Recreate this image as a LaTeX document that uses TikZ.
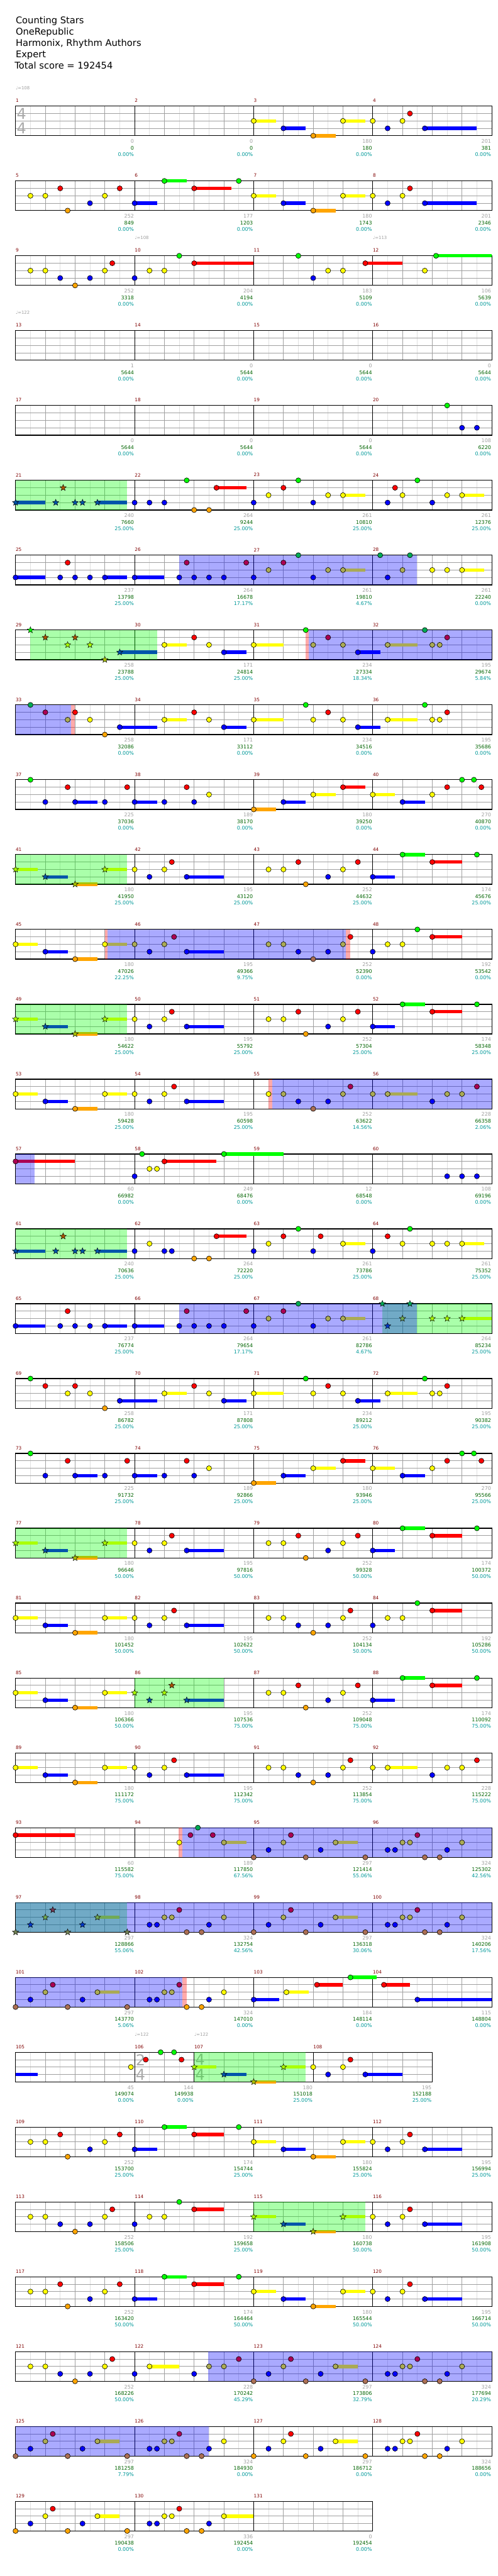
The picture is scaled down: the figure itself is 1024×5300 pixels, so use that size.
\documentclass[tikz,border=0pt]{standalone}
\usepackage{fontspec}
\setmainfont{DejaVu Sans}
\usetikzlibrary{shapes.geometric}
\definecolor{c0}{RGB}{0,255,0}
\definecolor{c1}{RGB}{255,0,0}
\definecolor{c2}{RGB}{255,255,0}
\definecolor{c3}{RGB}{0,0,255}
\definecolor{c4}{RGB}{255,165,0}
\definecolor{pgreen}{RGB}{0,255,0}
\definecolor{pblue}{RGB}{0,0,255}
\definecolor{pred}{RGB}{255,0,0}
\definecolor{mnum}{RGB}{128,0,0}
\definecolor{lgray}{RGB}{160,160,160}
\definecolor{lgreen}{RGB}{0,100,0}
\definecolor{lteal}{RGB}{0,153,153}
\definecolor{gridlight}{RGB}{224,224,224}
\definecolor{griddark}{RGB}{160,160,160}
\definecolor{tsgray}{RGB}{170,170,170}
\tikzset{
 gl/.style={draw=gridlight,line width=0.55pt},
 gd/.style={draw=griddark,line width=0.55pt},
 lnl/.style={draw=griddark,line width=0.65pt},
 ml/.style={draw=black,line width=0.6pt},
 bd/.style={draw=black,line width=0.85pt},
 nh/.style={draw=black,line width=0.45pt},
 sh/.style={star,star points=5,star point ratio=2.3,draw=black,line width=0.35pt,minimum size=2.7mm,inner sep=0pt},
 mn/.style={font=\fontsize{5.4}{6}\selectfont,text=mnum,inner sep=0pt,anchor=west},
 lb/.style={font=\fontsize{5.9}{7}\selectfont,inner sep=0pt,anchor=east},
 tempo/.style={font=\fontsize{5.1}{6}\selectfont,text=lgray,inner sep=0pt,anchor=west},
 tsig/.style={font=\fontsize{17.6}{18}\selectfont,text=tsgray,inner sep=0pt},
 ttl/.style={font=\fontsize{10.8}{13}\selectfont,anchor=base west,inner sep=0pt},
 staffrow/.style={shift={(32,{218.3+154*(#1-1)})},xscale=15.3125}
}
\newcommand\GRID[2]{%
 \pgfmathtruncatemacro\ga{#1-2}\pgfmathtruncatemacro\gb{#1-4}%
 \foreach \i in {2,6,...,\ga}{\draw[gl] (\i,0)--(\i,61);}
 \foreach \i in {4,8,...,\gb}{\draw[gd] (\i,0)--(\i,61);}
 \foreach \y in {15.25,30.5,45.75}{\draw[lnl] (0,\y)--(#1,\y);}
 \foreach \m in {#2}{\draw[ml] (\m,0)--(\m,61);}
 \draw[bd] (0,0) rectangle (#1,61);}
\newcommand\TS[3]{\node[tsig] at ({#1+0.8},15.5) {#2};\node[tsig] at ({#1+0.8},45.5) {#3};}
\newcommand\TEMPO[2]{\node[tempo] at (#1,-37) {♩=#2};}
\newcommand\MN[1]{\foreach \p/\m in {#1}{\node[mn] at (\p,-11) {\m};}}
\newcommand\MNS[1]{\foreach \k in {0,1,2,3}{\pgfmathtruncatemacro\mm{#1+\k}\node[mn] at ({16*\k},-11) {\mm};}}
\newcommand\SUS[1]{\foreach \s/\l/\n in {#1}{\fill[c\l] (\s,{15.25*\l-3.5}) rectangle ({\s+\n},{15.25*\l+3.5});}}
\newcommand\REG[3]{\fill[#1,fill opacity=0.333] (#2,0) rectangle (#3,61);}
\newcommand\hdn[2]{\filldraw[nh,fill=c#2] (#1,{15.25*#2}) ellipse [x radius=0.343,y radius=5.25];}
\newcommand\hdb[2]{\filldraw[nh,fill=c#2!67!pblue] (#1,{15.25*#2}) ellipse [x radius=0.343,y radius=5.25];}
\newcommand\hds[2]{\node[sh,fill=c#2!67!pgreen] at (#1,{15.25*#2}) {};}
\newcommand\hdt[2]{\node[sh,fill=c#2!67!pgreen!67!pblue] at (#1,{15.25*#2}) {};}
\newcommand\NH[2]{\foreach \s/\l in {#2}{\csname hd#1\endcsname{\s}{\l}}}
\newcommand\LAB[1]{\foreach \e/\g/\k/\p in {#1}{%
 \node[lb,text=lgray] at ({\e-0.07},72.5) {\g};
 \node[lb,text=lgreen] at ({\e-0.07},86) {\k};
 \node[lb,text=lteal] at ({\e-0.07},99) {\p\%};}}
\newcommand\STD{\GRID{64}{0,16,32,48,64}}
\begin{document}
\begin{tikzpicture}[x=0.2mm,y=-0.2mm]
\useasboundingbox (0,0) rectangle (1024,5300);
\fill[white] (0,0) rectangle (1024,5300);
\node[ttl] at (32,49) {Counting Stars};
\node[ttl] at (32,72.3) {OneRepublic};
\node[ttl] at (32,95.7) {Harmonix, Rhythm Authors};
\node[ttl] at (32,119) {Expert};
\node[ttl] at (30,141.7) {Total score = 192454};
% row 1
\begin{scope}[staffrow=1]
\STD\TS{0}{4}{4}\MNS{1}\TEMPO{0}{108}
\SUS{32/2/3,36/3/3,40/4/3,44/2/3,55/3/7}
\NH{n}{32/2,36/3,40/4,44/2,48/2,50/3,52/2,53/1,55/3}
\LAB{16/0/0/0.00,32/0/0/0.00,48/180/180/0.00,64/201/381/0.00}
\end{scope}
% row 2
\begin{scope}[staffrow=2]
\STD\MNS{5}
\SUS{16/3/3,20/0/3,24/1/5,32/2/3,36/3/3,40/4/3,44/2/3,55/3/7}
\NH{n}{2/2,4/2,6/1,7/4,10/3,12/2,14/1,16/3,20/0,24/1,30/0,32/2,36/3,40/4,44/2,48/2,50/3,52/2,53/1,55/3}
\LAB{16/252/849/0.00,32/177/1203/0.00,48/180/1743/0.00,64/201/2346/0.00}
\end{scope}
% row 3
\begin{scope}[staffrow=3]
\STD\MNS{9}\TEMPO{16}{108}\TEMPO{48}{113}
\SUS{24/1/8,47/1/5,56.5/0/7.5}
\NH{n}{2/2,4/2,6/3,8/4,10/3,12/2,13/1,16/3,18/2,20/2,22/0,24/1,38/0,40/3,42/2,44/2,47/1,55/2,56.5/0}
\LAB{16/252/3318/0.00,32/204/4194/0.00,48/183/5109/0.00,64/106/5639/0.00}
\end{scope}
% row 4
\begin{scope}[staffrow=4]
\STD\MNS{13}\TEMPO{0}{122}
\LAB{16/1/5644/0.00,32/0/5644/0.00,48/0/5644/0.00,64/0/5644/0.00}
\end{scope}
% row 5
\begin{scope}[staffrow=5]
\STD\MNS{17}
\NH{n}{58/0,60/3,62/3}
\LAB{16/0/5644/0.00,32/0/5644/0.00,48/0/5644/0.00,64/108/6220/0.00}
\end{scope}
% row 6
\begin{scope}[staffrow=6]
\STD\MNS{21}
\SUS{0/3/4,11/3/4,27/1/4,44/2/3,60/2/3}
\REG{pgreen}{0}{15}
\NH{s}{0/3,5.4/3,6.4/1,8/3,9/3,11/3}
\NH{n}{16/3,18/3,20/3,23/0,24/4,26/4,27/1,32/3,34/2,36/1,38/0,40/3,42/2,44/2,50/3,51/1,52/2,54/0,56/3,58/2,60/2}
\LAB{16/240/7660/25.00,32/264/9244/25.00,48/261/10810/25.00,64/261/12376/25.00}
\end{scope}
% row 7
\begin{scope}[staffrow=7]
\STD\MNS{25}
\SUS{0/3/4,12/3/3,16/3/4,44/2/3,60/2/3}
\REG{pblue}{22}{53.9}
\NH{n}{0/3,6/3,7/1,8/3,10/3,12/3,16/3,56/2,58/2,60/2}
\NH{b}{22/3,23/1,24/3,26/3,28/3,31/1,32/3,34/2,36/1,38/0,40/3,42/2,44/2,49/0,50/3,52/2,53/0}
\LAB{16/237/13798/25.00,32/264/16678/17.17,48/261/19810/4.67,64/261/22240/0.00}
\end{scope}
% row 8
\begin{scope}[staffrow=8]
\STD\MNS{29}
\SUS{14/3/5,20/2/3,28/3/3,32/2/4,46/3/3,50/2/4}
\REG{pgreen}{2}{19}\REG{pred}{39}{39.4}\REG{pblue}{39.4}{64}
\NH{s}{2/0,4/1,7/2,8/1,10/2,12/4,14/3}
\NH{n}{20/2,24/1,26/2,28/3,32/2,39/0}
\NH{b}{40/2,42/1,44/2,46/3,50/2,55/0,56/2,57/2,58/1}
\LAB{16/258/23788/25.00,32/171/24814/25.00,48/234/27334/18.34,64/195/29674/5.84}
\end{scope}
% row 9
\begin{scope}[staffrow=9]
\STD\MNS{33}
\SUS{14/3/5,20/2/3,28/3/3,32/2/4,46/3/3,50/2/4}
\REG{pblue}{0}{7.5}\REG{pred}{7.5}{8}
\NH{b}{2/0,4/1,7/2}
\NH{n}{8/1,10/2,12/4,14/3,20/2,24/1,26/2,28/3,32/2,39/0,40/2,42/1,44/2,46/3,50/2,55/0,56/2,57/2,58/1}
\LAB{16/258/32086/0.00,32/171/33112/0.00,48/234/34516/0.00,64/195/35686/0.00}
\end{scope}
% row 10
\begin{scope}[staffrow=10]
\STD\MNS{37}
\SUS{8/3/3,16/3/3,32/4/3,36/3/3,40/2/3,44/1/3,48/2/3,52/3/3}
\NH{n}{2/0,4/3,7/1,8/3,12/3,15/1,16/3,20/3,23/1,24/3,26/2,32/4,36/3,40/2,44/1,48/2,52/3,56/2,58/1,60/0,61.6/0,62.6/1}
\LAB{16/225/37036/0.00,32/189/38170/0.00,48/180/39250/0.00,64/270/40870/0.00}
\end{scope}
% row 11
\begin{scope}[staffrow=11]
\STD\MNS{41}
\SUS{0/2/3,4/3/3,8/4/3,12/2/3,23/3/5,48/3/3,52/0/3,56/1/4}
\REG{pgreen}{0}{15}
\NH{s}{0/2,4/3,8/4,12/2}
\NH{n}{16/2,18/3,20/2,21/1,23/3,34/2,36/2,38/1,39/4,42/3,44/2,46/1,48/3,52/0,56/1,62/0}
\LAB{16/180/41950/25.00,32/195/43120/25.00,48/252/44632/25.00,64/174/45676/25.00}
\end{scope}
% row 12
\begin{scope}[staffrow=12]
\STD\MNS{45}
\SUS{0/2/3,4/3/3,8/4/3,12/2/3,23/3/5,56/1/4}
\REG{pred}{12}{12.4}\REG{pblue}{12.4}{44.4}\REG{pred}{44.4}{45}
\NH{n}{0/2,4/3,8/4,12/2,45/1,48/3,50/2,52/2,54/0,56/1}
\NH{b}{16/2,18/3,20/2,21.3/1,23/3,34/2,36/2,38/3,40/4,42/3,44/2}
\LAB{16/180/47026/22.25,32/195/49366/9.75,48/252/52390/0.00,64/192/53542/0.00}
\end{scope}
% row 13
\begin{scope}[staffrow=13]
\STD\MNS{49}
\SUS{0/2/3,4/3/3,8/4/3,12/2/3,23/3/5,48/3/3,52/0/3,56/1/4}
\REG{pgreen}{0}{15}
\NH{s}{0/2,4/3,8/4,12/2}
\NH{n}{16/2,18/3,20/2,21/1,23/3,34/2,36/2,38/1,39/4,42/3,44/2,46/1,48/3,52/0,56/1,62/0}
\LAB{16/180/54622/25.00,32/195/55792/25.00,48/252/57304/25.00,64/174/58348/25.00}
\end{scope}
% row 14
\begin{scope}[staffrow=14]
\STD\MNS{53}
\SUS{0/2/3,4/3/3,8/4/3,12/2/3,23/3/5,50/2/4}
\REG{pred}{34}{34.5}\REG{pblue}{34.5}{64}
\NH{n}{0/2,4/3,8/4,12/2,16/2,18/3,20/2,21.3/1,23/3,34/2}
\NH{b}{36/2,38/3,40/4,42/3,44/2,45/1,48/2,50/2,56/3,58/2,60/2,62/1}
\LAB{16/180/59428/25.00,32/195/60598/25.00,48/252/63622/14.56,64/228/66358/2.06}
\end{scope}
% row 15
\begin{scope}[staffrow=15]
\STD\MNS{57}
\SUS{0/1/8,20/1/7,28/0/8}
\REG{pblue}{0}{2.6}
\NH{b}{0/1}
\NH{n}{16/3,17/0,18/2,19/2,20/1,28/0,58/3,60/3,62/3}
\LAB{16/60/66982/0.00,32/249/68476/0.00,48/12/68548/0.00,64/108/69196/0.00}
\end{scope}
% row 16
\begin{scope}[staffrow=16]
\STD\MNS{61}
\SUS{0/3/4,11/3/4,27/1/4,44/2/3,60/2/3}
\REG{pgreen}{0}{15}
\NH{s}{0/3,5.4/3,6.4/1,8/3,9/3,11/3}
\NH{n}{16/3,18/2,20/3,21/3,24/4,26/4,27/1,32/3,34/2,36/1,38/0,40/3,41/1,44/2,48/3,50/1,52/2,53/0,56/2,58/2,60/2}
\LAB{16/240/70636/25.00,32/264/72220/25.00,48/261/73786/25.00,64/261/75352/25.00}
\end{scope}
% row 17
\begin{scope}[staffrow=17]
\STD\MNS{65}
\SUS{0/3/4,12/3/3,16/3/4,44/2/3,60/2/4}
\REG{pgreen}{49.3}{64}\REG{pblue}{22}{53.9}
\NH{n}{0/3,6/3,7/1,8/3,10/3,12/3,16/3}
\NH{b}{22/3,23/1,24/3,26/3,28/3,31/1,32/3,34/2,36/1,38/0,40/3,42/2,44/2}
\NH{t}{49.3/0,50/3,52/2,53/0}
\NH{s}{56/2,58/2,60/2}
\LAB{16/237/76774/25.00,32/264/79654/17.17,48/261/82786/4.67,64/264/85234/25.00}
\end{scope}
% row 18
\begin{scope}[staffrow=18]
\STD\MNS{69}
\SUS{14/3/5,20/2/3,28/3/3,32/2/4,46/3/3,50/2/4}
\NH{n}{2/0,4/1,7/2,8/1,10/2,12/4,14/3,20/2,24/1,26/2,28/3,32/2,39/0,40/2,42/1,44/2,46/3,50/2,55/0,56/2,57/2,58/1}
\LAB{16/258/86782/25.00,32/171/87808/25.00,48/234/89212/25.00,64/195/90382/25.00}
\end{scope}
% row 19
\begin{scope}[staffrow=19]
\STD\MNS{73}
\SUS{8/3/3,16/3/3,32/4/3,36/3/3,40/2/3,44/1/3,48/2/3,52/3/3}
\NH{n}{2/0,4/3,7/1,8/3,12/3,15/1,16/3,20/3,23/1,24/3,26/2,32/4,36/3,40/2,44/1,48/2,52/3,56/2,58/1,60/0,61.6/0,62.6/1}
\LAB{16/225/91732/25.00,32/189/92866/25.00,48/180/93946/25.00,64/270/95566/25.00}
\end{scope}
% row 20
\begin{scope}[staffrow=20]
\STD\MNS{77}
\SUS{0/2/3,4/3/3,8/4/3,12/2/3,23/3/5,48/3/3,52/0/3,56/1/4}
\REG{pgreen}{0}{15}
\NH{s}{0/2,4/3,8/4,12/2}
\NH{n}{16/2,18/3,20/2,21/1,23/3,34/2,36/2,38/1,39/4,42/3,44/2,46/1,48/3,52/0,56/1,62/0}
\LAB{16/180/96646/50.00,32/195/97816/50.00,48/252/99328/50.00,64/174/100372/50.00}
\end{scope}
% row 21
\begin{scope}[staffrow=21]
\STD\MNS{81}
\SUS{0/2/3,4/3/3,8/4/3,12/2/3,23/3/5,56/1/4}
\NH{n}{0/2,4/3,8/4,12/2,16/2,18/3,20/2,21.3/1,23/3,34/2,36/2,38/3,40/4,42/3,44/2,45/1,48/3,50/2,52/2,54/0,56/1}
\LAB{16/180/101452/50.00,32/195/102622/50.00,48/252/104134/50.00,64/192/105286/50.00}
\end{scope}
% row 22
\begin{scope}[staffrow=22]
\STD\MNS{85}
\SUS{0/2/3,4/3/3,8/4/3,12/2/3,23/3/5,48/3/3,52/0/3,56/1/4}
\REG{pgreen}{16}{28}
\NH{n}{0/2,4/3,8/4,12/2,34/2,36/2,38/1,39/4,42/3,44/2,46/1,48/3,52/0,56/1,62/0}
\NH{s}{16/2,18/3,20/2,21/1,23/3}
\LAB{16/180/106366/50.00,32/195/107536/75.00,48/252/109048/75.00,64/174/110092/75.00}
\end{scope}
% row 23
\begin{scope}[staffrow=23]
\STD\MNS{89}
\SUS{0/2/3,4/3/3,8/4/3,12/2/3,23/3/5,50/2/4}
\NH{n}{0/2,4/3,8/4,12/2,16/2,18/3,20/2,21.3/1,23/3,34/2,36/2,38/3,40/4,42/3,44/2,45/1,48/2,50/2,56/3,58/2,60/2,62/1}
\LAB{16/180/111172/75.00,32/195/112342/75.00,48/252/113854/75.00,64/228/115222/75.00}
\end{scope}
% row 24
\begin{scope}[staffrow=24]
\STD\MNS{93}
\SUS{0/1/8,28/2/3,43/2/3}
\REG{pred}{21.9}{22.4}\REG{pblue}{22.4}{64}
\NH{n}{0/1,22/2}
\NH{b}{23.5/1,24.5/0,26.5/1,28/2,32/4,34/3,36/2,37/1,39/4,41/3,43/2,47/4,50/3,51/3,52/2,53/2,54/1,55/4,57/4,58/3,60/2}
\LAB{16/60/115582/75.00,32/189/117850/67.56,48/297/121414/55.06,64/324/125302/42.56}
\end{scope}
% row 25
\begin{scope}[staffrow=25]
\STD\MNS{97}
\SUS{11/2/3,43/2/3}
\REG{pgreen}{0}{15}\REG{pblue}{0}{64}
\NH{t}{0/4,2/3,4/2,5/1,7/4,9/3,11/2,15/4}
\NH{b}{18/3,19/3,20/2,21/2,22/1,23/4,25/4,26/3,28/2,32/4,34/3,36/2,37/1,39/4,41/3,43/2,47/4,50/3,51/3,52/2,53/2,54/1,55/4,57/4,58/3,60/2}
\LAB{16/297/128866/55.06,32/324/132754/42.56,48/297/136318/30.06,64/324/140206/17.56}
\end{scope}
% row 26
\begin{scope}[staffrow=26]
\STD\MNS{101}
\SUS{11/2/3,32/3/3.4,36.4/2/3,40.5/1/3.5,45/0/3.5,49.5/1/3.5,54/3/10}
\REG{pblue}{0}{22.4}\REG{pred}{22.4}{23}
\NH{b}{0/4,2/3,4/2,5/1,7/4,9/3,11/2,15/4,18/3,19/3,20/2,21/2,22/1}
\NH{n}{23/4,25/4,26/3,28/2,32/3,36.4/2,40.5/1,45/0,49.5/1,54/3}
\LAB{16/297/143770/5.06,32/324/147010/0.00,48/184/148114/0.00,64/115/148804/0.00}
\end{scope}
% row 27
\begin{scope}[staffrow=27]
\GRID{56}{0,16,24,40,56}
\TS{16}{2}{4}\TS{24}{4}{4}
\MN{0/105,16/106,24/107,40/108}
\TEMPO{16}{122}\TEMPO{24}{122}
\SUS{0/3/3,24/2/3,28/3/3,32/4/3,36/2/3,47/3/5}
\REG{pgreen}{24}{39}
\NH{n}{15.5/2,17.5/1,19.5/0,21.3/0,22.3/1,40/2,42/3,44/2,45/1,47/3}
\NH{s}{24/2,28/3,32/4,36/2}
\LAB{16/45/149074/0.00,24/144/149938/0.00,40/180/151018/25.00,56/195/152188/25.00}
\end{scope}
% row 28
\begin{scope}[staffrow=28]
\STD\MNS{109}
\SUS{16/3/3,20/0/3,24/1/4,32/2/3,36/3/3,40/4/3,44/2/3,55/3/5}
\NH{n}{2/2,4/2,6/1,7/4,10/3,12/2,14/1,16/3,20/0,24/1,30/0,32/2,36/3,40/4,44/2,48/2,50/3,52/2,53/1,55/3}
\LAB{16/252/153700/25.00,32/174/154744/25.00,48/180/155824/25.00,64/195/156994/25.00}
\end{scope}
% row 29
\begin{scope}[staffrow=29]
\STD\MNS{113}
\SUS{24/1/4,32/2/3,36/3/3,40/4/3,44/2/3,55/3/5}
\REG{pgreen}{32}{47}
\NH{n}{2/2,4/2,6/3,8/4,10/3,12/2,13/1,16/3,18/2,20/2,22/0,24/1,48/2,50/3,52/2,53/1,55/3}
\NH{s}{32/2,36/3,40/4,44/2}
\LAB{16/252/158506/25.00,32/192/159658/25.00,48/180/160738/50.00,64/195/161908/50.00}
\end{scope}
% row 30
\begin{scope}[staffrow=30]
\STD\MNS{117}
\SUS{16/3/3,20/0/3,24/1/4,32/2/3,36/3/3,40/4/3,44/2/3,55/3/5}
\NH{n}{2/2,4/2,6/1,7/4,10/3,12/2,14/1,16/3,20/0,24/1,30/0,32/2,36/3,40/4,44/2,48/2,50/3,52/2,53/1,55/3}
\LAB{16/252/163420/50.00,32/174/164464/50.00,48/180/165544/50.00,64/195/166714/50.00}
\end{scope}
% row 31
\begin{scope}[staffrow=31]
\STD\MNS{121}
\SUS{18/2/4,43/2/3}
\REG{pblue}{25.9}{64}
\NH{n}{2/2,4/2,6/3,8/4,10/3,12/2,13/1,16/3,18/2,24/3}
\NH{b}{26/2,28/2,30/1,32/4,34/3,36/2,37/1,39/4,41/3,43/2,47/4,50/3,51/3,52/2,53/2,54/1,55/4,57/4,58/3,60/2}
\LAB{16/252/168226/50.00,32/228/170242/45.29,48/297/173806/32.79,64/324/177694/20.29}
\end{scope}
% row 32
\begin{scope}[staffrow=32]
\STD\MNS{125}
\SUS{11/2/3,43/2/3}
\REG{pblue}{0}{26}
\NH{b}{0/4,2/3,4/2,5/1,7/4,9/3,11/2,15/4,18/3,19/3,20/2,21/2,22/1,23/4,25/4}
\NH{n}{26/3,28/2,32/4,34/3,36/2,37/1,39/4,41/3,43/2,47/4,50/3,51/3,52/2,53/2,54/1,55/4,57/4,58/3,60/2}
\LAB{16/297/181258/7.79,32/324/184930/0.00,48/297/186712/0.00,64/324/188656/0.00}
\end{scope}
% row 33
\begin{scope}[staffrow=33]
\GRID{48}{0,16,32,48}
\MN{0/129,16/130,32/131}
\SUS{11/2/3,28/2/4}
\NH{n}{0/4,2/3,4/2,5/1,7/4,9/3,11/2,15/4,18/3,19/3,20/2,21/2,22/1,23/4,25/4,26/3,28/2}
\LAB{16/297/190438/0.00,32/336/192454/0.00,48/0/192454/0.00}
\end{scope}
\end{tikzpicture}
\end{document}
